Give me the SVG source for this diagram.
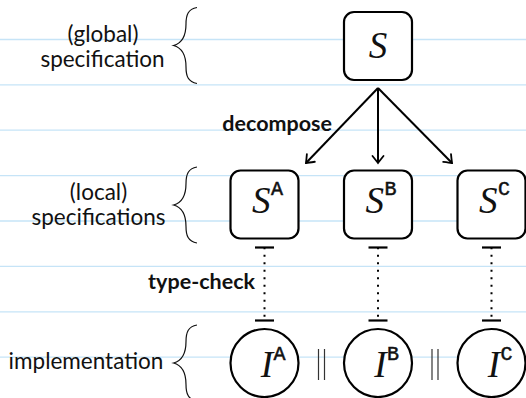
<svg xmlns="http://www.w3.org/2000/svg" width="526" height="398" viewBox="0 0 526 398">
  <style>
    .rule { stroke: #c6e4f7; stroke-width: 1.3; }
    .label { font-family: Lato, "Open Sans", sans-serif; font-size: 22.5px; fill: #111; text-anchor: middle; }
    .bold { font-family: Lato, "Open Sans", sans-serif; font-size: 21.5px; font-weight: bold; fill: #111; text-anchor: end; }
    .brace { fill: none; stroke: #111; stroke-width: 1.2; }
    .spec { fill: #fff; stroke: #000; stroke-width: 2.2; }
    .impl { fill: #fff; stroke: #000; stroke-width: 2.2; }
    .math { font-family: "Liberation Serif", "DejaVu Serif", serif; font-style: italic; font-size: 37px; fill: #111; }
    .sup { font-family: "Liberation Mono", "DejaVu Sans Mono", monospace; font-size: 20px; fill: #111; stroke: #111; stroke-width: 0.5; }
    .edge { fill: none; stroke: #000; stroke-width: 2; }
    .bar { stroke: #000; stroke-width: 2.2; }
    .dots { stroke: #000; stroke-width: 2; stroke-dasharray: 2 5.5; }
    .par { stroke: #333; stroke-width: 1.2; }
  </style>
  <defs>
    <marker id="tip" viewBox="-9 -7 11 14" markerWidth="11" markerHeight="14" refX="0" refY="0" orient="auto" markerUnits="userSpaceOnUse">
      <path d="M-7,-5.5 Q-2,-1.5 0,0 Q-2,1.5 -7,5.5" fill="none" stroke="#000" stroke-width="1.8" stroke-linecap="round"/>
    </marker>
  </defs>

  <rect width="526" height="398" fill="#fff"/>

  <!-- notebook rules -->
  <g id="rules">
    <line class="rule" x1="0" y1="39.5" x2="526" y2="39.5"/>
    <line class="rule" x1="0" y1="84.8" x2="526" y2="84.8"/>
    <line class="rule" x1="0" y1="130.2" x2="526" y2="130.2"/>
    <line class="rule" x1="0" y1="175.6" x2="526" y2="175.6"/>
    <line class="rule" x1="0" y1="221" x2="526" y2="221"/>
    <line class="rule" x1="0" y1="266.4" x2="526" y2="266.4"/>
    <line class="rule" x1="0" y1="311.8" x2="526" y2="311.8"/>
    <line class="rule" x1="0" y1="357.2" x2="526" y2="357.2"/>
  </g>

  <!-- level captions with braces -->
  <g id="caption-global">
    <text class="label" x="103" y="42">(global)</text>
    <text class="label" x="102.5" y="67">specification</text>
    <path class="brace" d="M197,7.5 C188,9 186,15 186,24 C186,35 183,43 173.5,45.5 C183,48 186,56 186,67 C186,76 188,82 197,83.5"/>
  </g>
  <g id="caption-local">
    <text class="label" x="98.5" y="200">(local)</text>
    <text class="label" x="98.5" y="225">specifications</text>
    <path class="brace" d="M197,167 C188,168.5 186,174.5 186,183.5 C186,194.5 183,202.5 173.5,205 C183,207.5 186,215.5 186,226.5 C186,235.5 188,241.5 197,243"/>
  </g>
  <g id="caption-impl">
    <text class="label" x="86" y="369">implementation</text>
    <path class="brace" d="M197,325 C188,326.5 186,332.5 186,341.5 C186,352.5 183,360.5 173.5,363 C183,365.5 186,373.5 186,384.5 C186,393.5 188,399.5 197,401"/>
  </g>

  <!-- connectors -->
  <g id="connectors">
    <path class="edge" d="M378,88 L306,163" marker-end="url(#tip)"/>
    <path class="edge" d="M378,88 L378,163" marker-end="url(#tip)"/>
    <path class="edge" d="M378,88 L452,163" marker-end="url(#tip)"/>
    <text class="bold" x="332" y="131">decompose</text>

    <line class="bar" x1="255" y1="247.5" x2="274" y2="247.5"/>
    <line class="dots" x1="264.5" y1="247.3" x2="264.5" y2="320"/>
    <line class="bar" x1="255" y1="320.5" x2="274" y2="320.5"/>

    <line class="bar" x1="368.5" y1="247.5" x2="387.5" y2="247.5"/>
    <line class="dots" x1="378" y1="247.3" x2="378" y2="320"/>
    <line class="bar" x1="368.5" y1="320.5" x2="387.5" y2="320.5"/>

    <line class="bar" x1="482" y1="247.5" x2="501" y2="247.5"/>
    <line class="dots" x1="491.5" y1="247.3" x2="491.5" y2="320"/>
    <line class="bar" x1="482" y1="320.5" x2="501" y2="320.5"/>
    <text class="bold" x="255" y="289">type-check</text>
  </g>

  <!-- global specification -->
  <g id="node-S">
    <rect class="spec" x="344" y="12" width="68" height="68" rx="10"/>
    <text class="math" x="378" y="58" text-anchor="middle">S</text>
  </g>

  <!-- local specifications -->
  <g id="node-SA">
    <rect class="spec" x="230.5" y="170.5" width="68" height="68" rx="10"/>
    <text class="math" x="270.5" y="213" text-anchor="end">S</text>
    <text class="sup" x="271" y="195">A</text>
  </g>
  <g id="node-SB">
    <rect class="spec" x="344" y="170.5" width="68" height="68" rx="10"/>
    <text class="math" x="384" y="213" text-anchor="end">S</text>
    <text class="sup" x="384.5" y="195">B</text>
  </g>
  <g id="node-SC">
    <rect class="spec" x="457.5" y="170.5" width="68" height="68" rx="10"/>
    <text class="math" x="497.5" y="213" text-anchor="end">S</text>
    <text class="sup" x="498" y="195">C</text>
  </g>

  <!-- implementations -->
  <g id="node-IA">
    <circle class="impl" cx="264.5" cy="363" r="34"/>
    <text class="math" x="273" y="377" text-anchor="end">I</text>
    <text class="sup" x="273.5" y="360">A</text>
  </g>
  <g id="node-IB">
    <circle class="impl" cx="378" cy="363" r="34"/>
    <text class="math" x="386.5" y="377" text-anchor="end">I</text>
    <text class="sup" x="387" y="360">B</text>
  </g>
  <g id="node-IC">
    <circle class="impl" cx="491.5" cy="363" r="34"/>
    <text class="math" x="500" y="377" text-anchor="end">I</text>
    <text class="sup" x="500.5" y="360">C</text>
  </g>

  <!-- parallel composition bars -->
  <g id="parallel">
    <line class="par" x1="318.5" y1="349" x2="318.5" y2="380"/>
    <line class="par" x1="324.5" y1="349" x2="324.5" y2="380"/>
    <line class="par" x1="432" y1="349" x2="432" y2="380"/>
    <line class="par" x1="438" y1="349" x2="438" y2="380"/>
  </g>
</svg>
